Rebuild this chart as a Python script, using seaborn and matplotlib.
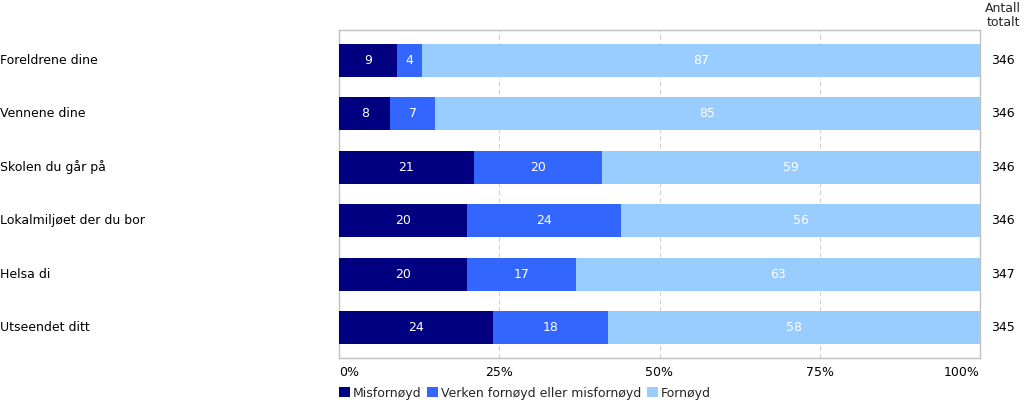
import matplotlib
matplotlib.use("Agg")
import matplotlib.pyplot as plt
import matplotlib.transforms as mtransforms
from matplotlib.patches import Patch
import seaborn as sns
import pandas as pd

categories = ["Foreldrene dine", "Vennene dine", "Skolen du går på",
              "Lokalmiljøet der du bor", "Helsa di", "Utseendet ditt"]
misfornoyd = [9, 8, 21, 20, 20, 24]
verken = [4, 7, 20, 24, 17, 18]
fornoyd = [87, 85, 59, 56, 63, 58]
antall = [346, 346, 346, 346, 347, 345]
series_names = ["Misfornøyd", "Verken fornøyd eller misfornøyd", "Fornøyd"]
colors = ["#000080", "#3366FF", "#99CCFF"]
tick_vals = [0, 25, 50, 75, 100]
tick_labels = ["0%", "25%", "50%", "75%", "100%"]

sns.set_style("white")
plt.rcParams["font.family"] = ["DejaVu Sans"]
FS = 9

df = pd.DataFrame({"cat": categories, "m": misfornoyd, "v": verken, "f": fornoyd})
df["c1"] = df["m"]
df["c2"] = df["m"] + df["v"]
df["c3"] = df["m"] + df["v"] + df["f"]

fig = plt.figure(figsize=(10.24, 4.03), dpi=100)
ax = fig.add_axes([339/1024, 1-358/403, (980-339)/1024, (358-30)/403])

for col, color in zip(["c3", "c2", "c1"], colors[::-1]):
    sns.barplot(data=df, x=col, y="cat", orient="h", color=color, width=0.62,
                ax=ax, saturation=1, linewidth=0, zorder=3)

ax.set_xlim(0, 100)
ax.set_ylim(5.57, -0.57)
ax.set_xlabel("")
ax.set_ylabel("")
ax.set_yticks([])
ax.set_xticks(tick_vals)
ax.set_xticklabels([])
ax.tick_params(axis="x", length=0)
for x in tick_vals[1:-1]:
    ax.axvline(x, color="#d0d0d0", linestyle=(0, (4, 3)), linewidth=0.8, zorder=1)
for s in ax.spines.values():
    s.set_color("#c0c0c0")
    s.set_linewidth(1)

# tick labels
tick_trans = mtransforms.blended_transform_factory(ax.transData, fig.transFigure)
for v, lab in zip(tick_vals, tick_labels):
    ha = "left" if v == 0 else ("right" if v == 100 else "center")
    ax.text(v, 1-372/403, lab, transform=tick_trans,
            ha=ha, va="center", fontsize=FS, color="#000000")

# segment labels
for i, row in df.iterrows():
    starts = [0, row["c1"], row["c2"]]
    vals = [row["m"], row["v"], row["f"]]
    for s, v in zip(starts, vals):
        ax.text(s + v/2, i, str(v), ha="center", va="center", color="white", fontsize=FS, zorder=5)

# category labels and counts
trans_cat = mtransforms.blended_transform_factory(fig.transFigure, ax.transData)
for i, (c, n) in enumerate(zip(categories, antall)):
    ax.text(0.0, i, c, transform=trans_cat, ha="left", va="center", fontsize=FS, color="#000000")
    ax.text(1003/1024, i, str(n), transform=trans_cat, ha="center", va="center", fontsize=FS, color="#000000")

fig.text(1003/1024, 1-8/403, "Antall", ha="center", va="center", fontsize=FS)
fig.text(1003/1024, 1-22/403, "totalt", ha="center", va="center", fontsize=FS)

handles = [Patch(facecolor=c, edgecolor="none") for c in colors]
fig.legend(handles, series_names, loc="center left", bbox_to_anchor=(339/1024, 1-393/403),
           ncol=3, frameon=False, fontsize=FS, handlelength=0.9, handleheight=0.9,
           handletextpad=0.2, columnspacing=0.45, borderpad=0, borderaxespad=0)

fig.savefig("out.png", dpi=100)
